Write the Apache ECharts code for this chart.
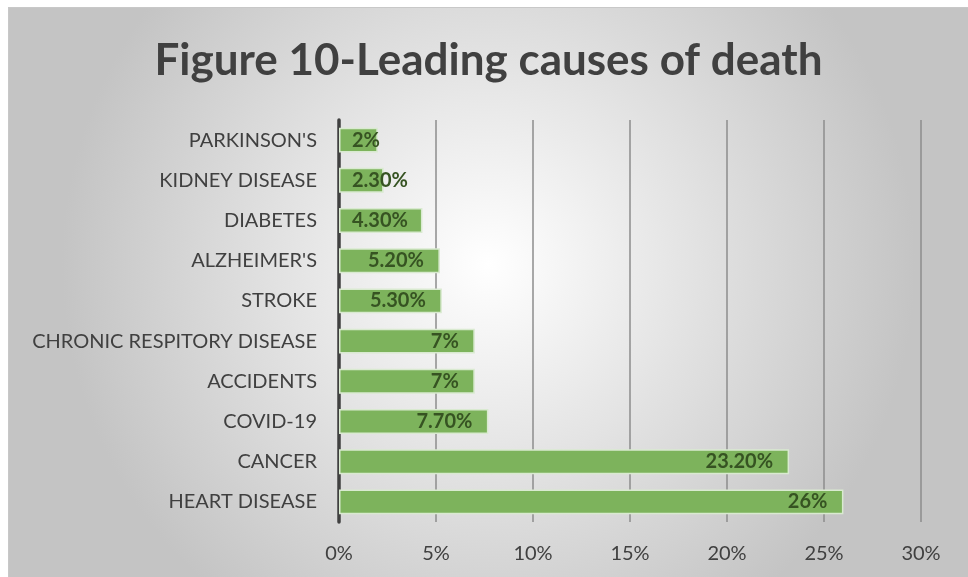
<!DOCTYPE html>
<html>
<head>
<meta charset="utf-8">
<script src="https://cdn.jsdelivr.net/npm/echarts@6/dist/echarts.min.js"></script>
<style>
  html, body { margin: 0; padding: 0; background: #fff; }
  #main { position: absolute; left: 8px; top: 7px; width: 959px; height: 569px; border-top: 1px solid #c8c8c8; border-left: 1px solid #c8c8c8; }
</style>
</head>
<body>
<div id="main"></div>
<script>
// causes, bottom to top
var causes = ['HEART DISEASE', 'CANCER', 'COVID-19', 'ACCIDENTS', 'CHRONIC RESPITORY DISEASE',
  'STROKE', "ALZHEIMER'S", 'DIABETES', 'KIDNEY DISEASE', "PARKINSON'S"];
var shares = [26, 23.2, 7.7, 7, 7, 5.3, 5.2, 4.3, 2.3, 2];
var shareText = ['26%', '23.20%', '7.70%', '7%', '7%', '5.30%', '5.20%', '4.30%', '2.30%', '2%'];
var tickLabels = ['0%', '5%', '10%', '15%', '20%', '25%', '30%'];

var font = 'Lato, "Open Sans", sans-serif';
var chart = echarts.init(document.getElementById('main'));

var barData = shares.map(function (v) {
  var item = { value: v };
  if (v < 5) {
    // short bars: label starts from the axis side
    item.label = { position: 'insideLeft', distance: 13 };
  }
  return item;
});

var option = {
  backgroundColor: {
    type: 'radial', x: 0.5, y: 0.45, r: 0.75,
    colorStops: [
      { offset: 0, color: '#ffffff' },
      { offset: 1, color: '#c4c4c4' }
    ]
  },
  title: {
    text: 'Figure 10-Leading causes of death',
    left: 'center',
    top: 26,
    textStyle: { fontFamily: font, fontSize: 44, fontWeight: 'bold', color: '#404040' }
  },
  grid: { left: 330, right: 47, top: 112, bottom: 55 },
  xAxis: {
    type: 'value',
    min: 0, max: 30, interval: 5,
    axisLine: { show: false },
    axisTick: { show: false },
    axisLabel: {
      margin: 22,
      fontFamily: font, fontSize: 20, color: '#404040',
      formatter: function (v) { return tickLabels[Math.round(v / 5)]; }
    },
    splitLine: { lineStyle: { color: '#8c8c8c', width: 1.5 } }
  },
  yAxis: {
    type: 'category',
    data: causes,
    axisLine: { lineStyle: { color: '#404040', width: 3.5 } },
    axisTick: { show: false },
    axisLabel: { margin: 22, fontFamily: font, fontSize: 20, color: '#404040' }
  },
  series: [{
    type: 'bar',
    data: barData,
    barCategoryGap: '38%',
    itemStyle: { color: '#7db35c', borderColor: '#d9ead0', borderWidth: 1.5 },
    label: {
      show: true,
      position: 'insideRight',
      distance: 16,
      fontFamily: font, fontSize: 20, fontWeight: 'bold', color: '#365322',
      formatter: function (p) { return shareText[p.dataIndex]; }
    }
  }]
};

chart.setOption(option);
</script>
</body>
</html>
